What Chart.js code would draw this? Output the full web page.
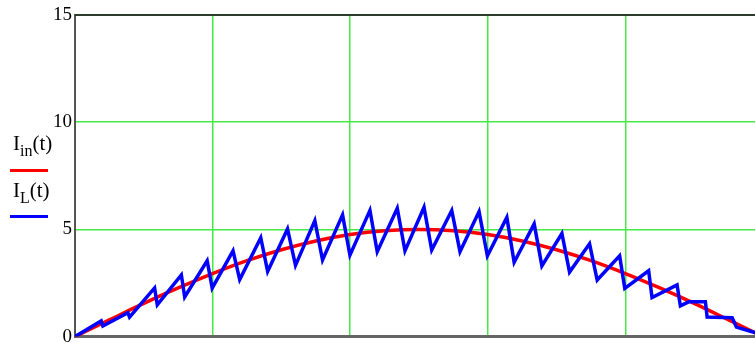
<!DOCTYPE html>
<html>
<head>
<meta charset="utf-8">
<script src="https://cdn.jsdelivr.net/npm/chart.js@4"></script>
<style>
  html, body { margin: 0; padding: 0; background: #fff; overflow: hidden; width: 755px; height: 343px; }
  #wrap { position: absolute; left: 0; top: 0; width: 766px; height: 351px; }
  .key { position: absolute; left: 13px; font-family: 'Liberation Serif', 'Times New Roman', serif;
         font-size: 21px; line-height: 20px; color: #000; white-space: nowrap; }
  .key sub { font-size: 16px; vertical-align: baseline; position: relative; top: 6px; }
  .swatch { position: absolute; left: 10px; width: 38px; height: 3px; }
</style>
</head>
<body>
<div id="wrap"><canvas id="c"></canvas></div>
<div class="key" style="top:133px">I<sub>in</sub>(t)</div>
<div class="swatch" style="top:169px;background:#ff0000"></div>
<div class="key" style="top:180px">I<sub>L</sub>(t)</div>
<div class="swatch" style="top:215px;background:#0000ff"></div>
<script>
// Input (line) current, sampled every 0.5 ms over a half cycle
const inputTime = [0, 0.5, 1, 1.5, 2, 2.5, 3, 3.5, 4, 4.5, 5, 5.5, 6, 6.5, 7, 7.5, 8, 8.5, 9, 9.5, 10];
const inputCurrent = [0, 0.78, 1.55, 2.27, 2.94, 3.54, 4.05, 4.46, 4.76, 4.94, 5.00,
                      4.94, 4.76, 4.46, 4.05, 3.54, 2.94, 2.27, 1.55, 0.78, 0];

// Inductor current: switching peaks and valleys
const inductorTime = [0, 0.381, 0.405, 0.769, 0.793, 1.157, 1.196, 1.546, 1.594, 1.921, 1.994,
  2.297, 2.394, 2.70, 2.80, 3.089, 3.205, 3.486, 3.598, 3.889, 3.996, 4.287, 4.393,
  4.684, 4.796, 5.073, 5.185, 5.476, 5.596, 5.873, 5.994, 6.277, 6.383, 6.674, 6.786,
  7.077, 7.188, 7.479, 7.59, 7.916, 7.991, 8.338, 8.387, 8.751, 8.799, 8.92, 9.163,
  9.188, 9.552, 9.614, 9.89, 10];
const inductorCurrent = [0, 0.73, 0.49, 1.11, 0.91, 2.27, 1.48, 2.88, 1.85, 3.54, 2.26,
  4.00, 2.66, 4.61, 3.04, 5.02, 3.32, 5.41, 3.57, 5.68, 3.80, 5.89, 3.96,
  5.99, 4.00, 6.03, 4.04, 5.88, 3.96, 5.83, 3.77, 5.56, 3.47, 5.26, 3.30,
  4.81, 3.01, 4.33, 2.64, 3.77, 2.25, 3.07, 1.82, 2.41, 1.43, 1.62, 1.63,
  0.91, 0.88, 0.44, 0.18, 0];

const yTicks = [0, 5, 10, 15];
const xGridStep = 2;

const toPoints = (xs, ys) => xs.map((x, i) => ({ x: x, y: ys[i] }));

// dark top edge of the plot frame
const topFrame = {
  id: 'topFrame',
  afterDatasetsDraw(chart) {
    const { ctx, chartArea: a } = chart;
    ctx.save();
    ctx.strokeStyle = '#2d3b2d';
    ctx.lineWidth = 2;
    ctx.beginPath();
    ctx.moveTo(a.left, a.top);
    ctx.lineTo(a.right, a.top);
    ctx.stroke();
    ctx.restore();
  }
};

const gridGreen = '#45ea45';

new Chart(document.getElementById('c'), {
  type: 'line',
  data: {
    datasets: [
      { label: 'I_L(t)', data: toPoints(inductorTime, inductorCurrent),
        borderColor: '#0000ff', borderWidth: 3.5, pointRadius: 0, tension: 0, order: 0 },
      { label: 'I_in(t)', data: toPoints(inputTime, inputCurrent),
        borderColor: '#ff0000', borderWidth: 3.5, pointRadius: 0,
        cubicInterpolationMode: 'monotone', order: 1 }
    ]
  },
  options: {
    responsive: true,
    maintainAspectRatio: false,
    animation: false,
    devicePixelRatio: 1,
    layout: { autoPadding: false, padding: { top: 15, right: 3, bottom: 0, left: 0 } },
    plugins: { legend: { display: false }, tooltip: { enabled: false } },
    scales: {
      x: {
        type: 'linear', min: 0, max: 10,
        ticks: { display: false, stepSize: xGridStep },
        grid: { color: gridGreen, lineWidth: 1.5, drawTicks: false },
        border: { color: '#666', width: 3 },
        afterFit(s) { s.height = 0; }
      },
      y: {
        min: 0, max: 15,
        afterBuildTicks(s) { s.ticks = yTicks.map(v => ({ value: v })); },
        ticks: { font: { family: 'Liberation Serif', size: 19 }, color: '#000', padding: 3 },
        grid: { color: gridGreen, lineWidth: 1.5, drawTicks: false },
        border: { color: '#555', width: 2 },
        afterFit(s) { s.width = 75; }
      }
    }
  },
  plugins: [topFrame]
});
</script>
</body>
</html>
